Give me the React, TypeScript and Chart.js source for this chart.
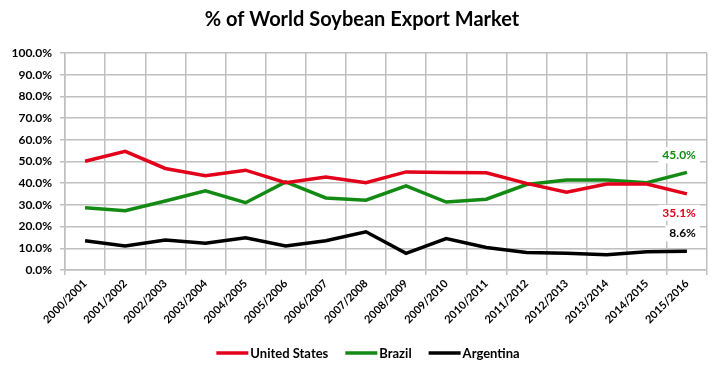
import React, { useEffect, useRef } from 'react';
import { Chart, registerables } from 'chart.js';

Chart.register(...registerables);

const categories = [
  '2000/2001', '2001/2002', '2002/2003', '2003/2004', '2004/2005', '2005/2006',
  '2006/2007', '2007/2008', '2008/2009', '2009/2010', '2010/2011', '2011/2012',
  '2012/2013', '2013/2014', '2014/2015', '2015/2016',
];
const unitedStates = [50.1, 54.7, 46.8, 43.4, 46.0, 40.2, 42.9, 40.2, 45.2, 44.9, 44.8, 39.9, 35.9, 39.6, 39.6, 35.1];
const brazil = [28.7, 27.3, 31.8, 36.5, 31.0, 40.6, 33.2, 32.2, 38.8, 31.3, 32.6, 39.4, 41.5, 41.5, 40.2, 45.0];
const argentina = [13.5, 11.1, 13.8, 12.3, 14.8, 11.1, 13.5, 17.6, 7.7, 14.5, 10.4, 8.1, 7.7, 7.0, 8.4, 8.6];
const seriesNames = ['United States', 'Brazil', 'Argentina'];
const seriesColors = ['#e3001b', '#138a13', '#000000'];
const titleText = '% of World Soybean Export Market';
const yMin = 0;
const yMax = 100;
const yStep = 10;

const FONT = 'Lato, "Liberation Sans", sans-serif';

const titlePlugin = {
  id: 'customTitle',
  afterDraw(chart: any) {
    const ctx = chart.ctx;
    ctx.save();
    ctx.font = `bold 20px ${FONT}`;
    ctx.fillStyle = '#000';
    ctx.textAlign = 'center';
    ctx.textBaseline = 'alphabetic';
    ctx.fillText(titleText, 362, 26);
    ctx.restore();
  },
};

const endLabelPlugin = {
  id: 'endLabels',
  afterDatasetsDraw(chart: any) {
    const ctx = chart.ctx;
    const offsets = [19, -17, -18];
    ctx.save();
    ctx.font = `bold 12px ${FONT}`;
    ctx.textAlign = 'right';
    ctx.textBaseline = 'middle';
    chart.data.datasets.forEach((ds: any, i: number) => {
      const meta = chart.getDatasetMeta(i);
      const pt = meta.data[meta.data.length - 1];
      const v = ds.data[ds.data.length - 1];
      const text = v.toFixed(1) + '%';
      const x = pt.x + 9;
      const y = pt.y + offsets[i];
      const w = ctx.measureText(text).width;
      ctx.fillStyle = '#fff';
      ctx.fillRect(x - w - 4, y - 8, w + 8, 16);
      ctx.fillStyle = ds.borderColor;
      ctx.fillText(text, x, y);
    });
    ctx.restore();
  },
};

const legendPlugin = {
  id: 'customLegend',
  afterDraw(chart: any) {
    const ctx = chart.ctx;
    ctx.save();
    ctx.font = `bold 13px ${FONT}`;
    const lineW = 32;
    const gapText = 2;
    const gapItem = 17;
    const widths = chart.data.datasets.map((ds: any) => lineW + gapText + ctx.measureText(ds.label).width);
    const total = widths.reduce((a: number, b: number) => a + b, 0) + gapItem * (widths.length - 1);
    let x = 368 - total / 2;
    const y = 353;
    chart.data.datasets.forEach((ds: any, i: number) => {
      ctx.strokeStyle = ds.borderColor;
      ctx.lineWidth = 3.5;
      ctx.beginPath();
      ctx.moveTo(x, y);
      ctx.lineTo(x + lineW, y);
      ctx.stroke();
      ctx.fillStyle = '#000';
      ctx.textAlign = 'left';
      ctx.textBaseline = 'middle';
      ctx.fillText(ds.label, x + lineW + gapText, y + 0.5);
      x += widths[i] + gapItem;
    });
    ctx.restore();
  },
};

export default function App() {
  const canvasRef = useRef<HTMLCanvasElement | null>(null);

  useEffect(() => {
    if (!canvasRef.current) return;
    const seriesData = [unitedStates, brazil, argentina];
    const chart = new Chart(canvasRef.current, {
      type: 'line',
      data: {
        labels: categories,
        datasets: seriesData.map((d, i) => ({
          label: seriesNames[i],
          data: d,
          borderColor: seriesColors[i],
          backgroundColor: seriesColors[i],
          borderWidth: 3.5,
          pointRadius: 0,
          tension: 0,
          fill: false,
        })),
      },
      options: {
        responsive: false,
        animation: false,
        layout: { padding: { top: 53, left: 0, right: 13, bottom: 0 } },
        plugins: {
          legend: { display: false },
          title: { display: false },
          tooltip: { enabled: false },
        },
        scales: {
          x: {
            offset: true,
            grid: { offset: true, color: '#c0c0c0', lineWidth: 1.5, tickLength: 5, drawTicks: true },
            border: { color: '#c0c0c0', width: 1.5 },
            ticks: {
              minRotation: 45,
              maxRotation: 45,
              autoSkip: false,
              color: '#000',
              font: { family: FONT, size: 11, weight: 'bold' },
              padding: 2,
            },
            afterFit: (scale: any) => { scale.height = 101; },
          },
          y: {
            min: yMin,
            max: yMax,
            ticks: {
              stepSize: yStep,
              color: '#000',
              font: { family: FONT, size: 12, weight: 'bold' },
              padding: 8,
              callback: (v: any) => Number(v).toFixed(1) + '%',
            },
            grid: { color: '#c0c0c0', lineWidth: 1.5, tickLength: 5 },
            border: { color: '#c0c0c0', width: 1.5 },
            afterFit: (scale: any) => { scale.width = 65; },
          },
        },
      },
      plugins: [titlePlugin, endLabelPlugin, legendPlugin],
    } as any);
    return () => chart.destroy();
  }, []);

  return (
    <div style={{ position: 'absolute', left: 0, top: 0, width: 720, height: 371, background: '#fff' }}>
      <canvas ref={canvasRef} width={720} height={371} style={{ width: 720, height: 371 }} />
    </div>
  );
}
